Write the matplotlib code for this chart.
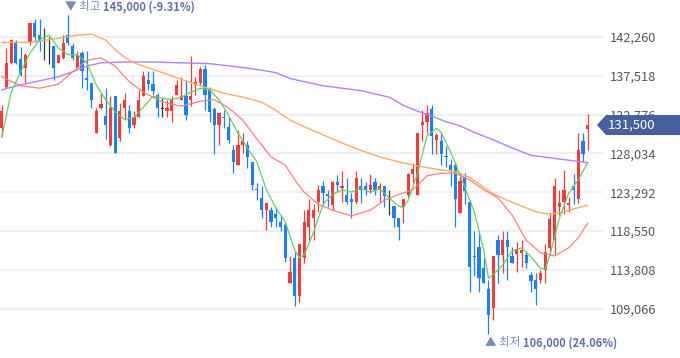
import matplotlib
matplotlib.use("Agg")
import matplotlib.pyplot as plt
from matplotlib.patches import Polygon
import numpy as np

plt.rcParams['font.family'] = ['Noto Sans CJK KR', 'DejaVu Sans']

# daily candles (won), oldest -> newest
opens = [131100, 136200, 139100, 141500, 139600, 138500, 141500, 144000, 142500, 142000,
         142000, 141100, 139100, 139700, 142500, 141100, 138500, 140300, 137200, 136600,
         130500, 133600, 132600, 129100, 135100, 129900, 133600, 133200, 131500, 132500,
         135100, 137000, 136500, 135200, 133500, 133200, 133200, 135200, 134600, 135100,
         134600, 136400, 136600, 138400, 136000, 133500, 131500, 132500, 131300, 128500,
         126600, 129100, 129100, 127000, 123700, 122600, 121100, 121100, 120600, 119600,
         119300, 112200, 115200, 110600, 115200, 119100, 120100, 122100, 124000, 123100,
         121700, 124500, 123800, 123000, 122500, 122100, 124100, 124100, 123600, 124500,
         123600, 124000, 122600, 121600, 120100, 121500, 123000, 125500, 123000, 131500,
         131900, 133500, 129700, 129500, 127700, 126600, 126600, 120700, 125200, 122100,
         115500, 116600, 114000, 111500, 109100, 117400, 115600, 117400, 115500, 115800,
         115900, 115600, 113200, 112600, 112600, 113800, 116500, 117400, 121500, 122100,
         121700, 124000, 122500, 129500, 131000]
highs = [134000, 140900, 142000, 141900, 141000, 140300, 144000, 144400, 144400, 143400,
         142300, 141100, 140100, 142500, 145000, 141500, 140500, 140500, 140500, 136600,
         133600, 135400, 136000, 135000, 135100, 134200, 135400, 134000, 133200, 135800,
         138100, 138100, 138100, 135400, 134800, 134600, 135000, 137000, 137400, 137000,
         139900, 137400, 138600, 138800, 136200, 133700, 133000, 133300, 132500, 129100,
         130900, 130500, 129500, 127000, 124400, 124000, 122000, 121500, 121300, 120500,
         119500, 115500, 116000, 117000, 121100, 122500, 121900, 124200, 124600, 123600,
         124600, 125400, 125900, 125000, 123200, 125900, 125000, 124500, 125500, 125000,
         124400, 124000, 123600, 121600, 120100, 122500, 125600, 126800, 130500, 133300,
         133900, 133900, 130500, 130500, 128900, 127400, 126800, 125600, 125600, 122300,
         118600, 118500, 115300, 112600, 115500, 118100, 118500, 118500, 116600, 117200,
         117400, 116000, 113600, 113400, 113800, 117000, 120700, 125000, 123600, 126000,
         122700, 125500, 130500, 130500, 132900]
lows = [130100, 136000, 139000, 138900, 137500, 136600, 141300, 141700, 140500, 139500,
        139000, 137000, 139100, 139600, 141300, 139500, 138500, 136000, 135800, 133600,
        130500, 133400, 129800, 128900, 128100, 129500, 132100, 130500, 131100, 132500,
        135000, 135800, 135200, 132500, 132500, 132500, 131900, 135200, 134600, 132100,
        133800, 135200, 136400, 133300, 131900, 128000, 129100, 131100, 129300, 125600,
        126600, 128100, 126200, 123600, 122300, 120100, 118700, 119100, 119100, 118500,
        114800, 112200, 109400, 109900, 114600, 117500, 117500, 120900, 121700, 121500,
        121100, 123400, 122100, 121900, 120100, 121900, 122000, 123000, 123200, 123000,
        122100, 121500, 120500, 119100, 117500, 119500, 122700, 124400, 122900, 129500,
        130500, 128000, 128000, 126600, 126400, 124000, 119100, 120700, 121900, 111100,
        113000, 111100, 112200, 106000, 107700, 112200, 113400, 112600, 114600, 113600,
        114200, 114000, 111100, 109500, 112200, 112200, 115600, 115800, 120500, 120600,
        120900, 121900, 122000, 127000, 128500]
closes = [133200, 139100, 141900, 139100, 137600, 140100, 144000, 142300, 141700, 142000,
          142000, 138500, 140100, 141500, 141500, 139700, 140100, 138100, 137000, 134600,
          133200, 134100, 131500, 133600, 128100, 133200, 134600, 131100, 132500, 134600,
          137500, 136500, 135600, 133600, 133500, 133600, 134600, 136400, 135100, 132700,
          135000, 136700, 138400, 135200, 133100, 131500, 133000, 132400, 129700, 127000,
          129100, 129500, 127600, 124200, 123600, 121100, 122000, 119700, 120200, 119100,
          115200, 113600, 110600, 117000, 119700, 121100, 121100, 123600, 123200, 122800,
          124500, 124200, 124100, 122100, 122100, 125000, 123600, 123600, 124200, 123600,
          124100, 122800, 122600, 120200, 119100, 122500, 125500, 126100, 130500, 131900,
          133000, 130100, 130300, 128000, 127600, 126000, 122500, 124600, 123400, 114200,
          115400, 112800, 112200, 108300, 115500, 115600, 117400, 116600, 114600, 116400,
          116200, 114600, 112400, 111500, 113400, 116000, 120000, 124000, 122000, 123600,
          122000, 123600, 128500, 128000, 131500]

# moving averages (day index, won)
ma5_days = [0, 2, 4, 6, 8, 10, 12, 14, 16, 18, 20, 22, 24, 26, 28, 30, 32, 34, 36, 38,
            40, 42, 44, 46, 48, 50, 52, 54, 56, 58, 60, 62, 63, 64, 66, 68, 70, 72, 74, 76,
            78, 80, 82, 84, 85, 86, 88, 90, 92, 93, 94, 96, 98, 100, 102, 103, 104, 106, 108, 110,
            112, 114, 115, 116, 118, 120, 122, 124]
ma5_vals = [130000, 135500, 138000, 140300, 141900, 142500, 140900, 140100, 140100, 139100,
            136400, 134600, 133100, 132200, 132400, 133700, 135000, 134800, 134600, 134900,
            135500, 136000, 135800, 134600, 132700, 130500, 128700, 127000, 123600, 121400,
            119700, 116200, 115300, 115600, 118400, 121800, 123000, 123600, 123300, 123800,
            123300, 123700, 122600, 121600, 121400, 122300, 125600, 130200, 131100, 130600,
            129400, 126900, 123900, 120900, 116200, 112800, 113200, 114400, 116100, 116500,
            115400, 114000, 113900, 115600, 120100, 123200, 124800, 126900]
ma20_days = [0, 4, 8, 12, 15, 18, 21, 24, 27, 30, 34, 38, 42, 45, 48, 51, 54, 57, 60, 62,
             64, 67, 70, 74, 78, 81, 84, 87, 90, 93, 96, 99, 102, 105, 108, 111, 114, 117, 120, 122, 124]
ma20_vals = [137400, 136300, 136000, 136500, 138000, 139400, 139700, 138700, 136800, 135500,
             134300, 133800, 134400, 134600, 133600, 132100, 129800, 127600, 126600, 124800,
             123300, 121800, 121100, 120400, 121100, 122300, 123000, 123600, 125300, 125600,
             125600, 124800, 123600, 122600, 120500, 117400, 115900, 115500, 116500, 117700, 119500]
ma60_days = [0, 6, 12, 16, 19, 22, 24, 26, 28, 31, 35, 39, 43, 47, 51, 55, 58, 61, 64, 68,
             72, 76, 80, 84, 88, 92, 96, 99, 101, 104, 107, 110, 113, 116, 119, 122, 124]
ma60_vals = [141600, 141600, 142100, 142500, 142600, 141900, 140700, 139800, 139100, 138500,
             137700, 136900, 136100, 135400, 134900, 134300, 133300, 132100, 131300, 130300,
             129300, 128400, 127600, 127000, 126500, 126100, 125800, 125100, 124300, 123100,
             122300, 121600, 120900, 120600, 120900, 121400, 121700]
ma120_days = [0, 4, 8, 12, 15, 18, 21, 26, 32, 38, 44, 50, 55, 58, 61, 64, 68, 72, 76, 79,
              82, 85, 88, 91, 94, 97, 100, 104, 108, 112, 116, 120, 124]
ma120_vals = [135800, 136400, 136900, 137400, 138000, 138700, 139100, 139200, 139200, 139100,
              139000, 138600, 138200, 137900, 137200, 136800, 136300, 136000, 135700, 135300,
              134900, 133900, 133200, 132600, 131900, 131400, 130600, 129700, 128700, 127800,
              127500, 127200, 126900]

grid_levels = [109066, 113808, 118550, 123292, 128034, 132776, 137518, 142260]

UP, DOWN, FLAT = '#f03c3c', '#1b80f0', '#333333'

fig = plt.figure(figsize=(6.8, 3.58), dpi=100)
ax = fig.add_axes([0, 0, 603 / 680, 1])

o, h, l, c = (np.array(v, dtype=float) for v in (opens, highs, lows, closes))
x = np.arange(len(c))
colors = np.where(c > o, UP, np.where(c < o, DOWN, FLAT))

ax.vlines(x, l, h, colors=colors, lw=0.9, zorder=2)
body = np.maximum(np.abs(c - o), 90)
ax.bar(x, body, bottom=np.minimum(o, c) - (body - np.abs(c - o)) / 2,
       width=0.68, color=colors, lw=0, zorder=3)

ax.plot(ma120_days, ma120_vals, color='#b37fff', lw=1.0, zorder=4)
ax.plot(ma60_days, ma60_vals, color='#ffab66', lw=1.0, zorder=4)
ax.plot(ma20_days, ma20_vals, color='#ff8080', lw=0.9, zorder=4)
ax.plot(ma5_days, ma5_vals, color='#62d062', lw=0.9, zorder=5)

ax.set_xlim(-0.36, 127.24)
ax.set_ylim(103030, 146780)
ax.yaxis.tick_right()
ax.set_yticks(grid_levels)
ax.set_yticklabels([f"{v:,}" for v in grid_levels])
ax.tick_params(axis='y', length=0, pad=5, labelsize=9.2, labelcolor='#555555')
ax.set_xticks([])
ax.grid(axis='y', color='#eef0f4', lw=1.6, zorder=0)
ax.set_axisbelow(True)
for s in ax.spines.values():
    s.set_visible(False)

# high / low markers
last = c[-1]
hi_i, lo_i = int(np.argmax(h)), int(np.argmin(l))
hi_pct = (last - h[hi_i]) / h[hi_i] * 100
lo_pct = (last - l[lo_i]) / l[lo_i] * 100
t1 = ax.annotate("▼ 최고 ", xy=(hi_i, h[hi_i]), xytext=(-3, 8), textcoords='offset pixels',
                 ha='left', va='center', fontsize=8.3, color='#7a89bd')
ax.annotate(f"{h[hi_i]:,.0f} ({hi_pct:.2f}%)", xy=(1, 0.5), xycoords=t1,
            ha='left', va='center', fontsize=8, color='#5e70ad', fontweight='bold')
t2 = ax.annotate("▲ 최저 ", xy=(lo_i, l[lo_i]), xytext=(-3, -9), textcoords='offset pixels',
                 ha='left', va='center', fontsize=8.3, color='#7a89bd')
ax.annotate(f"{l[lo_i]:,.0f} ({lo_pct:.2f}%)", xy=(1, 0.5), xycoords=t2,
            ha='left', va='center', fontsize=8, color='#5e70ad', fontweight='bold')

# last price tag
fig.canvas.draw()
yp = ax.transData.transform((0, last))[1]
tag = Polygon([[597, yp], [606, yp + 10], [680, yp + 10], [680, yp - 10], [606, yp - 10]],
              closed=True, transform=None, facecolor='#46609e', edgecolor='none', zorder=10)
fig.patches.append(tag)
fig.text(608 / 680, yp / 358, f"{last:,.0f}", ha='left', va='center', fontsize=9.5,
         color='white', zorder=11)

fig.savefig("out.png", dpi=100)
